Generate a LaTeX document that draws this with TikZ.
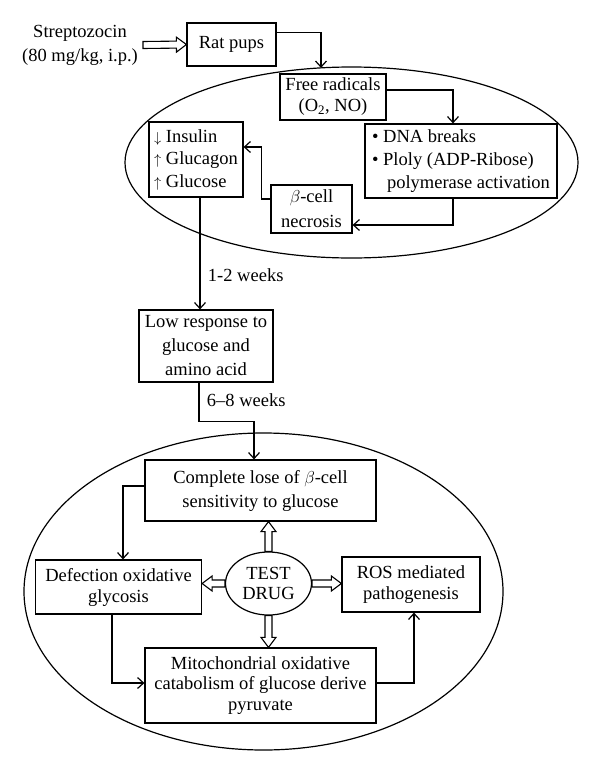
\documentclass[tikz,border=0pt]{standalone}
\usepackage{fontspec}
\setmainfont{Liberation Serif}
\usetikzlibrary{arrows.meta,calc,shapes.geometric}
\newcommand\arrfont{\fontsize{15}{15}\selectfont}
\newcommand\hollow[2]{%
  \draw[harrow] let \p1=(#1), \p2=(#2),
    \n1={atan2(\y2-\y1,\x2-\x1)}, \n2={veclen(\x2-\x1,\y2-\y1)} in
    [shift={(\p1)}, rotate=\n1]
    (0pt,-3.5pt) -- ({\n2*1pt-10pt},-3.5pt) -- ({\n2*1pt-10pt},-7.5pt)
    -- ({\n2*1pt},0pt) -- ({\n2*1pt-10pt},7.5pt) -- ({\n2*1pt-10pt},3.5pt)
    -- (0pt,3.5pt) -- cycle;}
\begin{document}
\begin{tikzpicture}[x=1pt,y=-1pt,line width=1.2pt,
  txt/.style={font=\fontsize{18.5}{22}\selectfont},
  box/.style={draw,fill=white,rectangle,inner sep=0pt,txt,align=center},
  arr/.style={-{Straight Barb[length=6pt,width=11pt]}},
  harrow/.style={draw,fill=white,line width=1.1pt,line join=miter},
  cont/.style={draw,ellipse,inner sep=0pt}]
\useasboundingbox (0,0) rectangle (600,774);

% containers
\node[cont,minimum width=453pt,minimum height=191pt] (e1) at (351.5,162.5) {};
\node[cont,minimum width=479pt,minimum height=317pt] (e2) at (263.5,591.5) {};

% top
\node[txt,align=center,font=\fontsize{18.5}{24}\selectfont] (strep) at (80,45) {Streptozocin\\(80 mg/kg, i.p.)};
\coordinate (hs) at (143,45);
\node[box,minimum width=89pt,minimum height=43pt] (rat) at (231.5,44.5) {Rat pups};
\coordinate (a1) at (321,67.9);

% first ellipse content
\node[box,minimum width=106pt,minimum height=46pt,font=\fontsize{18.5}{21}\selectfont] (fr) at (333,97) {Free radicals\\(O\textsubscript{2}, NO)};
\node[box,minimum width=192pt,minimum height=74pt,align=left,font=\fontsize{18.5}{23}\selectfont] (dna) at (461,161) {\textbullet\ DNA breaks\\\textbullet\ Ploly (ADP-Ribose)\\\hspace*{15pt}polymerase activation};
\node[box,minimum width=94pt,minimum height=75pt,align=left,font=\fontsize{18.5}{22.5}\selectfont] (ins) at (196,159.5) {{\arrfont$\downarrow$} Insulin\\{\arrfont$\uparrow$} Glucagon\\{\arrfont$\uparrow$} Glucose};
\node[box,minimum width=81pt,minimum height=48pt,font=\fontsize{18.5}{25}\selectfont] (beta) at (311.5,209) {$\beta$-cell\\necrosis};

% middle
\node[box,minimum width=134pt,minimum height=72pt,font=\fontsize{18.5}{24}\selectfont] (low) at (206,346) {Low response to\\glucose and\\amino acid};

% second ellipse content
\node[box,minimum width=231pt,minimum height=61pt,font=\fontsize{18.5}{24}\selectfont] (comp) at (260.5,490.5) {Complete lose of $\beta$-cell\\sensitivity to glucose};
\node[box,minimum width=166pt,minimum height=54pt,font=\fontsize{18.5}{21}\selectfont] (def) at (118.5,587) {Defection oxidative\\glycosis};
\node[draw,fill=white,ellipse,inner sep=0pt,minimum width=86pt,minimum height=63pt,align=center,font=\fontsize{18.5}{19.5}\selectfont] (drug) at (268.5,583.5) {TEST\\DRUG};
\node[box,minimum width=138pt,minimum height=55pt,font=\fontsize{18.5}{21}\selectfont] (ros) at (411,584.5) {ROS mediated\\pathogenesis};
\node[box,minimum width=231pt,minimum height=75pt,font=\fontsize{18.5}{20.5}\selectfont] (mito) at (260.5,685.5) {Mitochondrial oxidative\\catabolism of glucose derive\\pyruvate};

% connectors
\hollow{hs}{rat.west}
\draw[arr] ([yshift=-10pt]rat.north east) -| (a1);
\draw[arr] ([yshift=7pt]fr.east) -| ([xshift=-8pt]dna.north);
\draw[arr] ([xshift=-8pt]dna.south) |- ([yshift=-16pt]beta.east);
\draw[arr] ([yshift=10pt]beta.west) -- ++(-9,0) |- ([yshift=12.5pt]ins.east);
\draw[arr] ([xshift=4pt]ins.south) -- node[pos=0.69,right=4pt,txt]{1-2 weeks} ([xshift=4pt]ins.south |- low.north);
\draw[arr] ([xshift=-7pt]low.south) -- node[pos=0.46,right=4pt,txt]{6--8 weeks} ++(0,39) -| ([xshift=-6.5pt]comp.north);
\draw[arr] ([yshift=4.5pt]comp.west) -| ([xshift=4.5pt]def.north);
\draw[arr] ([xshift=-6.5pt]def.south) |- ([yshift=2.5pt]mito.west);
\draw[arr] ([yshift=2.5pt]mito.east) -| ([xshift=3pt]ros.south);

\hollow{drug.north}{drug.north |- comp.south}
\hollow{drug.south}{drug.south |- mito.north}
\hollow{drug.west}{drug.west -| def.east}
\hollow{drug.east}{drug.east -| ros.west}
\end{tikzpicture}
\end{document}
